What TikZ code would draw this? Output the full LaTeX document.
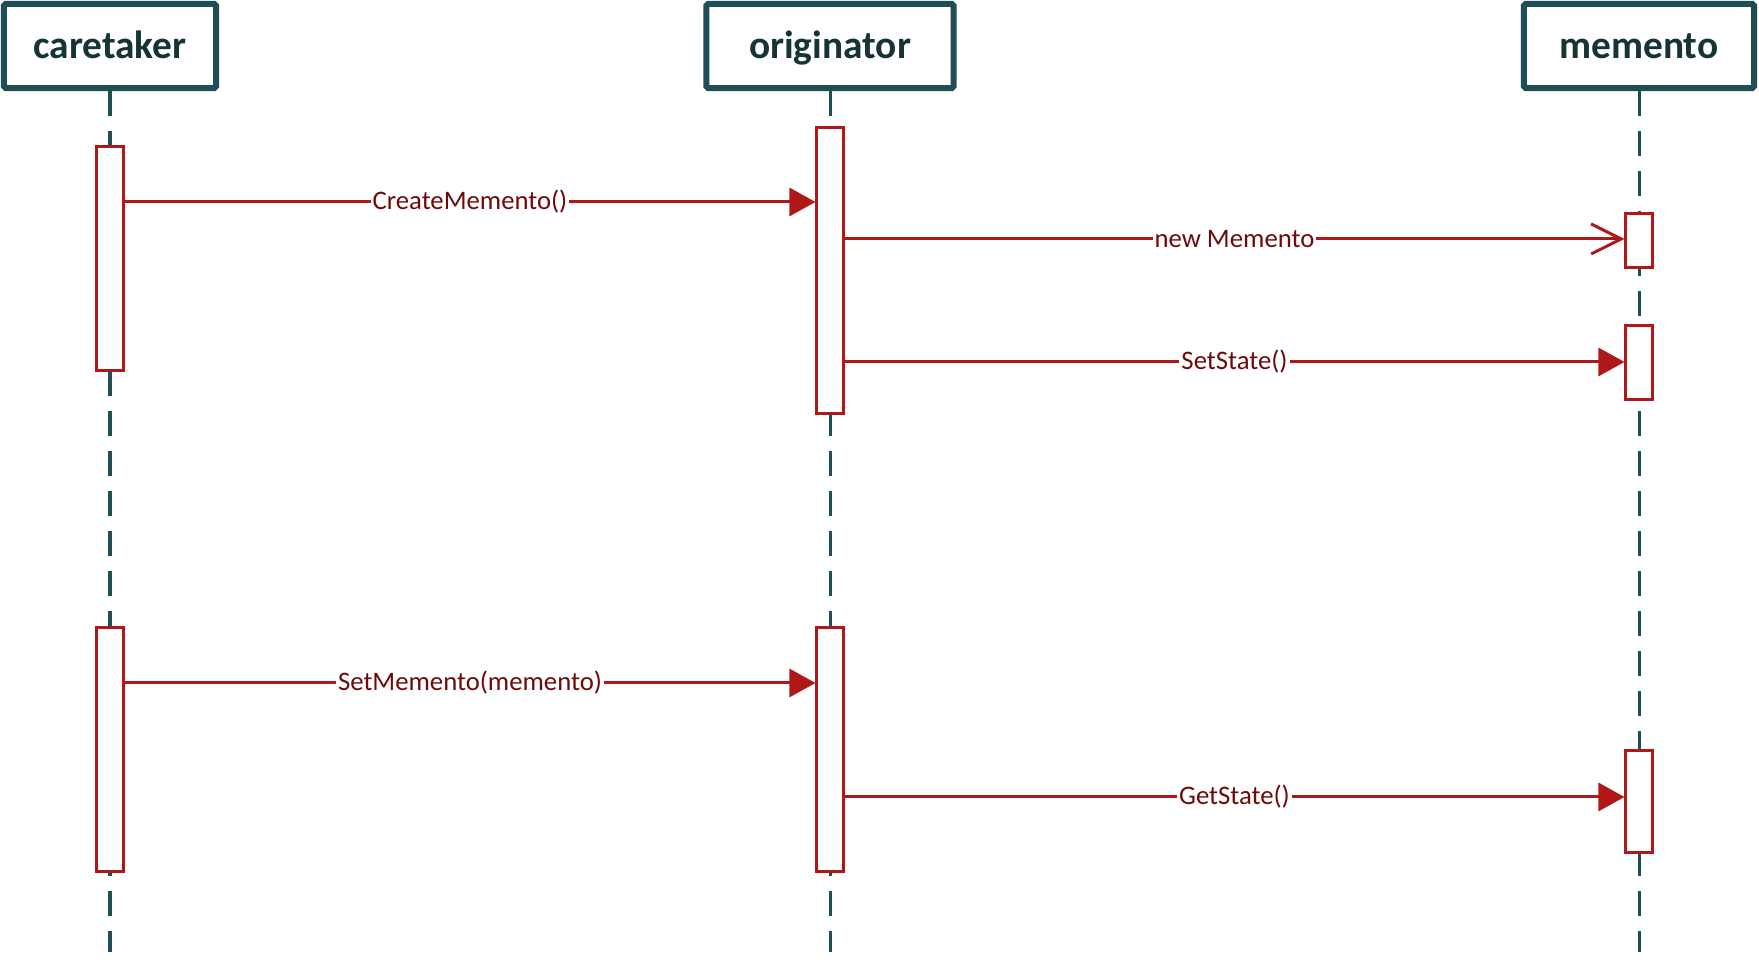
\documentclass[tikz,border=0pt]{standalone}
\usepackage{fontspec}
\setmainfont{Carlito}
\usetikzlibrary{arrows.meta}
\definecolor{lifeteal}{HTML}{1F4E54}
\definecolor{headtext}{HTML}{163436}
\definecolor{actred}{HTML}{B01717}
\definecolor{msgtext}{HTML}{6E0A0A}
\begin{document}
\begin{tikzpicture}[
x=0.01cm, y=-0.01cm,
header/.style={rectangle, draw=lifeteal, line width=0.06cm, rounded corners=0.5pt, fill=white, inner sep=0pt, minimum height=0.84cm, text height=8.4pt, text depth=1pt, text=headtext, font=\fontsize{11.2}{13}\selectfont\bfseries},
lifeline/.style={draw=lifeteal, line width=0.03cm, dash pattern=on 0.25cm off 0.15cm},
activation/.style={rectangle, draw=actred, line width=0.03cm, fill=white, inner sep=0pt, minimum width=0.26cm},
msg/.style={draw=actred, line width=0.03cm, -{Triangle[length=0.26cm, width=0.28cm]}},
create/.style={draw=actred, line width=0.03cm, -{Straight Barb[length=0.3cm, width=0.3cm]}},
msglabel/.style={midway, fill=white, inner sep=0.6pt, text=msgtext, font=\fontsize{7.6}{9}\selectfont},
]
\useasboundingbox (0,0) rectangle (1759,965);

%Headers
\node[header, minimum width=2.12cm] (caretaker) at (110,46) {caretaker};
\node[header, minimum width=2.47cm] (originator) at (830,46) {originator};
\node[header, minimum width=2.30cm] (memento) at (1639,46) {memento};

%Lifelines
\coordinate (endca) at (110,952);
\coordinate (endor) at (830,952);
\coordinate (endme) at (1639,952);
\draw[lifeline] (caretaker.south) -- (endca);
\draw[lifeline] (originator.south) -- (endor);
\draw[lifeline] (memento.south) -- (endme);

%Activations
\node[activation, minimum height=2.24cm] (ca1) at (110,258.5) {};
\node[activation, minimum height=2.86cm] (or1) at (830,270.5) {};
\node[activation, minimum height=0.54cm] (me1) at (1639,240.5) {};
\node[activation, minimum height=0.74cm] (me2) at (1639,362.5) {};
\node[activation, minimum height=2.44cm] (ca2) at (110,749.5) {};
\node[activation, minimum height=2.44cm] (or2) at (830,749.5) {};
\node[activation, minimum height=1.02cm] (me3) at (1639,801.5) {};

%Messages
\coordinate (m1) at (0,202);
\coordinate (m2) at (0,239);
\coordinate (m3) at (0,362);
\coordinate (m4) at (0,683);
\coordinate (m5) at (0,797);
\draw[msg] (ca1.east |- m1) -- (or1.west |- m1) node[msglabel] {CreateMemento()};
\draw[create] (or1.east |- m2) -- (me1.west |- m2) node[msglabel] {new Memento};
\draw[msg] (or1.east |- m3) -- (me2.west |- m3) node[msglabel] {SetState()};
\draw[msg] (ca2.east |- m4) -- (or2.west |- m4) node[msglabel] {SetMemento(memento)};
\draw[msg] (or2.east |- m5) -- (me3.west |- m5) node[msglabel] {GetState()};
\end{tikzpicture}
\end{document}
